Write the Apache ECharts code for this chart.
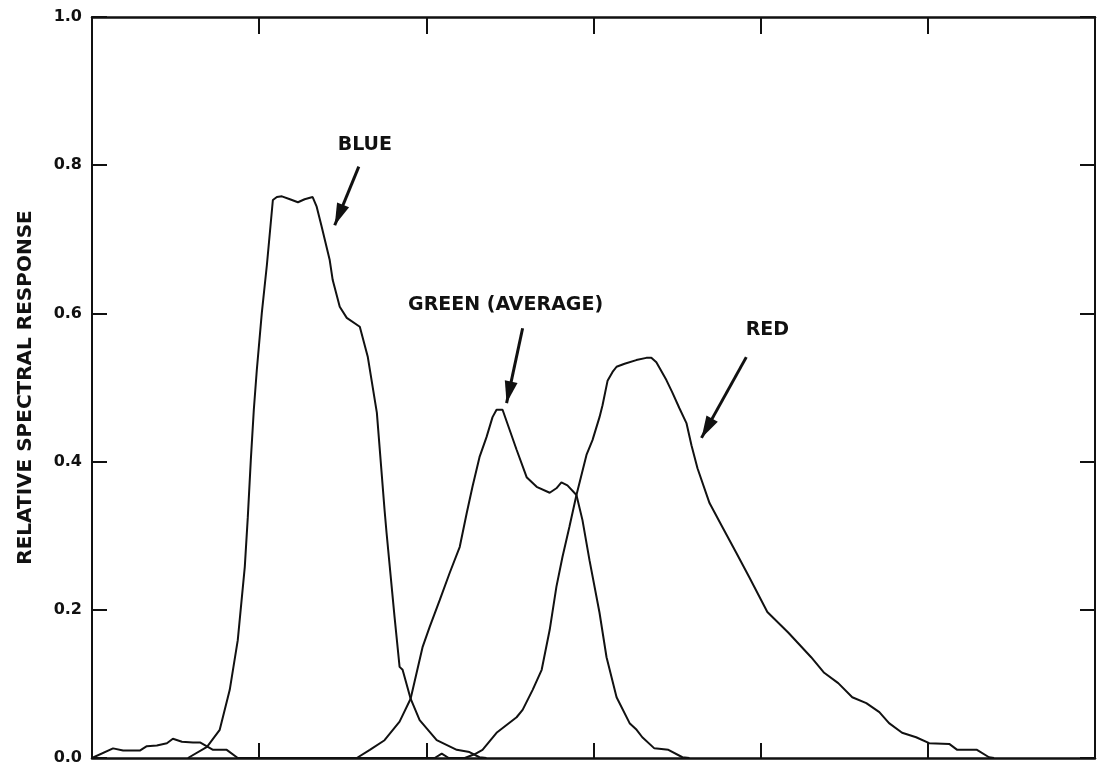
<!DOCTYPE html>
<html>
<head>
<meta charset="utf-8">
<script src="https://cdn.jsdelivr.net/npm/echarts@6/dist/echarts.min.js"></script>
<style>
  html, body { margin: 0; padding: 0; background: #fff; }
  #chart { width: 1098px; height: 766px; }
</style>
</head>
<body>
<div id="chart"></div>
<script>
// Wavelength axis (nm) and response axis
const wavelengthRange = [400, 700];
const wavelengthStep = 50;
const responseTicks = [0.0, 0.2, 0.4, 0.6, 0.8, 1.0];

// Spectral response curves: [wavelength nm, relative response]
const blueCurve = [
  [428.7, 0], [434.4, 0.015], [438.2, 0.038], [441.2, 0.092], [443.6, 0.159],
  [445.7, 0.258], [446.6, 0.325], [447.5, 0.402], [448.4, 0.470], [449.3, 0.524],
  [450.8, 0.601], [452.3, 0.665], [454.1, 0.753], [455.3, 0.757], [456.8, 0.758],
  [459.2, 0.754], [461.6, 0.750], [463.6, 0.754], [466.0, 0.757], [467.2, 0.744],
  [468.7, 0.717], [471.1, 0.672], [472.0, 0.645], [474.1, 0.609], [476.2, 0.594],
  [480.1, 0.582], [482.5, 0.541], [485.2, 0.466], [487.5, 0.335], [488.1, 0.304],
  [490.5, 0.190], [492.0, 0.123], [492.9, 0.119], [495.3, 0.080], [498.0, 0.051],
  [503.1, 0.024], [509.1, 0.011], [512.9, 0.008], [515.9, 0.001], [518.0, 0]
];

const greenCurve = [
  [479.2, 0], [483.1, 0.011], [487.5, 0.024], [492.0, 0.049], [495.3, 0.080],
  [498.9, 0.150], [501.0, 0.177], [504.0, 0.213], [507.0, 0.250], [510.0, 0.285],
  [512.1, 0.331], [513.8, 0.366], [515.9, 0.406], [518.0, 0.433], [519.8, 0.460],
  [521.0, 0.470], [522.8, 0.470], [524.9, 0.443], [527.0, 0.416], [530.0, 0.379],
  [533.0, 0.366], [536.9, 0.358], [538.9, 0.364], [540.4, 0.372], [542.2, 0.368],
  [544.9, 0.355], [546.7, 0.321], [548.8, 0.267], [551.8, 0.196], [553.9, 0.136],
  [556.9, 0.082], [560.8, 0.047], [562.9, 0.038], [564.6, 0.028], [568.2, 0.013],
  [572.4, 0.011], [576.6, 0.001], [578.7, 0]
];

const redCurve = [
  [400.0, 0], [406.3, 0.013], [409.3, 0.010], [414.3, 0.010], [416.4, 0.016],
  [419.4, 0.017], [422.4, 0.020], [424.2, 0.026], [426.9, 0.022], [430.2, 0.021],
  [432.3, 0.021], [436.2, 0.011], [440.3, 0.011], [443.6, 0],
  [502.5, 0], [504.6, 0.006], [506.7, 0],
  [511.5, 0], [514.4, 0.005], [516.8, 0.011], [521.0, 0.034], [527.0, 0.055],
  [528.8, 0.065], [531.8, 0.092], [534.5, 0.119], [536.9, 0.173], [538.9, 0.231],
  [540.7, 0.271], [542.8, 0.312], [544.9, 0.355], [547.9, 0.409], [549.7, 0.429],
  [551.8, 0.460], [552.7, 0.476], [554.2, 0.509], [555.7, 0.521], [556.9, 0.528],
  [559.3, 0.532], [562.8, 0.537], [565.8, 0.540], [567.3, 0.540], [568.8, 0.534],
  [571.8, 0.510], [573.6, 0.493], [575.7, 0.472], [577.8, 0.452], [579.3, 0.422],
  [581.1, 0.391], [584.7, 0.344], [588.5, 0.312], [592.7, 0.277], [596.6, 0.244],
  [602.0, 0.197], [608.3, 0.169], [615.1, 0.136], [619.0, 0.115], [623.2, 0.101],
  [627.4, 0.082], [631.6, 0.074], [635.5, 0.062], [638.4, 0.047], [642.3, 0.034],
  [646.5, 0.028], [650.4, 0.020], [656.4, 0.019], [658.8, 0.011], [664.7, 0.011],
  [668.3, 0.001], [669.8, 0]
];

// Curve labels with their pointer arrows: text position, arrow tail, arrow tip
const curveLabels = ['BLUE', 'GREEN (AVERAGE)', 'RED'];
const labelPositions = [[481.6, 0.827], [523.7, 0.611], [602.0, 0.578]];
const arrowTails = [[479.8, 0.798], [528.8, 0.580], [595.7, 0.541]];
const arrowTips = [[472.6, 0.719], [524.0, 0.479], [582.3, 0.432]];

const INK = '#111';
const FONT = 'DejaVu Sans';
const HEAD = [13, 22];

const chart = echarts.init(document.getElementById('chart'), null, { renderer: 'canvas' });

const baseX = {
  type: 'value',
  min: wavelengthRange[0],
  max: wavelengthRange[1],
  interval: wavelengthStep,
  axisLine: { show: true, onZero: false, lineStyle: { color: INK, width: 2.5 } },
  axisTick: { show: true, inside: true, length: 15, lineStyle: { color: INK, width: 2 } },
  axisLabel: { show: false },
  splitLine: { show: false }
};

const baseY = {
  type: 'value',
  min: responseTicks[0],
  max: responseTicks[responseTicks.length - 1],
  interval: 0.2,
  axisLine: { show: true, onZero: false, lineStyle: { color: INK, width: 2 } },
  axisTick: { show: true, inside: true, length: 15, lineStyle: { color: INK, width: 2 } },
  splitLine: { show: false }
};

const curveStyle = { color: INK, width: 2 };

const option = {
  backgroundColor: '#fff',
  animation: false,
  grid: { left: 92, right: 3, top: 17, bottom: 8, containLabel: false },
  xAxis: [
    Object.assign({}, baseX, { position: 'bottom' }),
    Object.assign({}, baseX, {
      position: 'top',
      axisTick: { show: true, inside: true, length: 17, lineStyle: { color: INK, width: 2 } }
    })
  ],
  yAxis: [
    Object.assign({}, baseY, {
      position: 'left',
      name: 'RELATIVE SPECTRAL RESPONSE',
      nameLocation: 'middle',
      nameGap: 56,
      nameRotate: 90,
      nameTextStyle: { fontFamily: FONT, fontWeight: 'bold', fontSize: 20, color: INK },
      axisLabel: {
        show: true,
        margin: 10,
        formatter: v => v.toFixed(1),
        fontFamily: FONT, fontWeight: 'bold', fontSize: 16, color: INK
      }
    }),
    Object.assign({}, baseY, {
      position: 'right',
      axisLabel: { show: false }
    })
  ],
  series: [
    {
      name: 'BLUE', type: 'line', data: blueCurve, showSymbol: false,
      lineStyle: curveStyle, itemStyle: { color: INK }
    },
    {
      name: 'GREEN (AVERAGE)', type: 'line', data: greenCurve, showSymbol: false,
      lineStyle: curveStyle, itemStyle: { color: INK }
    },
    {
      name: 'RED', type: 'line', data: redCurve, showSymbol: false,
      lineStyle: curveStyle, itemStyle: { color: INK },
      // pointer arrows from each label to its curve; head pulled back so its tip ends on the point
      markLine: {
        silent: true,
        symbol: ['none', 'triangle'],
        symbolSize: HEAD,
        symbolOffset: [[0, 0], [0, HEAD[1] / 2]],
        label: { show: false },
        lineStyle: { color: INK, width: 3, type: 'solid' },
        data: arrowTails.map((t, i) => [{ coord: t }, { coord: arrowTips[i] }])
      },
      // curve names
      markPoint: {
        silent: true,
        symbol: 'circle',
        symbolSize: 0,
        label: {
          show: true,
          position: 'inside',
          formatter: p => p.name,
          fontFamily: FONT, fontWeight: 'bold', fontSize: 19, color: INK
        },
        data: curveLabels.map((n, i) => ({ name: n, coord: labelPositions[i] }))
      }
    }
  ]
};

chart.setOption(option);
</script>
</body>
</html>
